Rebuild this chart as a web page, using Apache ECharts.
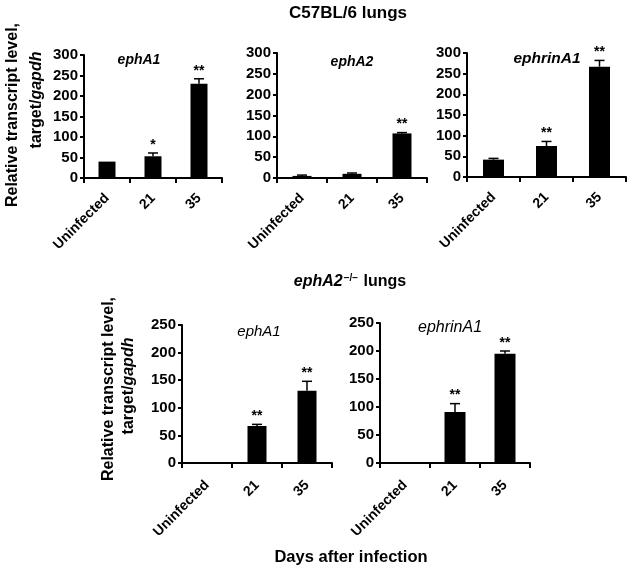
<!DOCTYPE html>
<html>
<head>
<meta charset="utf-8">
<script src="https://cdn.jsdelivr.net/npm/echarts@6/dist/echarts.min.js"></script>
<style>
  html, body { margin: 0; padding: 0; background: #fff; }
  #chart { width: 632px; height: 571px; }
</style>
</head>
<body>
<div id="chart"></div>
<script>
// categories (days after infection)
const categories = ['Uninfected', '21', '35'];

// C57BL/6 lungs
const wtEphA1 = [40, 53, 230];
const wtEphA1Err = [0, 8, 12];
const wtEphA1Stars = ['', '*', '**'];

const wtEphA2 = [5, 10, 107];
const wtEphA2Err = [2, 2, 2];
const wtEphA2Stars = ['', '', '**'];

const wtEphrinA1 = [42, 75, 267];
const wtEphrinA1Err = [3, 11, 15];
const wtEphrinA1Stars = ['', '**', '**'];

// ephA2-/- lungs
const koEphA1 = [0, 67, 131];
const koEphA1Err = [0, 3, 17];
const koEphA1Stars = ['', '**', '**'];

const koEphrinA1 = [0, 91, 195];
const koEphrinA1Err = [0, 15, 5];
const koEphrinA1Stars = ['', '**', '**'];

const topTicks = { min: 0, max: 300, interval: 50 };
const bottomTicks = { min: 0, max: 250, interval: 50 };

const FONT = '"Liberation Sans", Arial, sans-serif';

const panels = [
    { vals: wtEphA1, err: wtEphA1Err, stars: wtEphA1Stars, ticks: topTicks, barWidth: 17, labelGap: 18,
      grid: { left: 84, top: 55, width: 138, height: 123 } },
    { vals: wtEphA2, err: wtEphA2Err, stars: wtEphA2Stars, ticks: topTicks, barWidth: 19, labelGap: 18,
      grid: { left: 277, top: 53, width: 150, height: 125 } },
    { vals: wtEphrinA1, err: wtEphrinA1Err, stars: wtEphrinA1Stars, ticks: topTicks, barWidth: 21, labelGap: 18,
      grid: { left: 467, top: 53, width: 159, height: 124 } },
    { vals: koEphA1, err: koEphA1Err, stars: koEphA1Stars, ticks: bottomTicks, barWidth: 19, labelGap: 20,
      grid: { left: 182, top: 325, width: 150, height: 138 } },
    { vals: koEphrinA1, err: koEphrinA1Err, stars: koEphrinA1Stars, ticks: bottomTicks, barWidth: 21, labelGap: 20,
      grid: { left: 380, top: 323, width: 150, height: 140 } }
];

const grid = [], xAxis = [], yAxis = [], series = [];

panels.forEach((p, i) => {
    grid.push(Object.assign({ containLabel: false }, p.grid));
    xAxis.push({
        type: 'category',
        gridIndex: i,
        data: categories,
        axisLine: { lineStyle: { color: '#000', width: 2 } },
        axisTick: { show: true, length: 5, lineStyle: { color: '#000', width: 2 } },
        axisLabel: {
            interval: 0,
            rotate: 45,
            margin: p.labelGap,
            color: '#000',
            fontWeight: 'bold',
            fontSize: 14,
            fontFamily: FONT
        }
    });
    yAxis.push({
        type: 'value',
        gridIndex: i,
        min: p.ticks.min,
        max: p.ticks.max,
        interval: p.ticks.interval,
        splitLine: { show: false },
        axisLine: { show: true, lineStyle: { color: '#000', width: 2 } },
        axisTick: { show: true, length: 4, lineStyle: { color: '#000', width: 2 } },
        axisLabel: {
            margin: 6,
            color: '#000',
            fontWeight: 'bold',
            fontSize: 15,
            fontFamily: FONT
        }
    });
    series.push({
        type: 'bar',
        xAxisIndex: i,
        yAxisIndex: i,
        barWidth: p.barWidth,
        itemStyle: { color: '#000' },
        data: p.vals
    });
    // error bars + significance stars
    series.push({
        type: 'custom',
        xAxisIndex: i,
        yAxisIndex: i,
        z: 5,
        data: p.vals.map((v, k) => [k, v, p.err[k]]),
        renderItem: (params, api) => {
            const base = api.coord([api.value(0), api.value(1)]);
            const tip = api.coord([api.value(0), api.value(1) + api.value(2)]);
            const cap = 5;
            const children = [];
            if (api.value(2) > 0) {
                children.push({
                    type: 'line',
                    shape: { x1: base[0], y1: base[1], x2: tip[0], y2: tip[1] },
                    style: { stroke: '#000', lineWidth: 1.5 }
                });
                children.push({
                    type: 'line',
                    shape: { x1: tip[0] - cap, y1: tip[1], x2: tip[0] + cap, y2: tip[1] },
                    style: { stroke: '#000', lineWidth: 1.5 }
                });
            }
            const star = p.stars[params.dataIndex];
            if (star) {
                children.push({
                    type: 'text',
                    x: tip[0],
                    y: tip[1] - 1,
                    style: {
                        text: star,
                        align: 'center',
                        verticalAlign: 'bottom',
                        fill: '#000',
                        font: 'bold 14px ' + FONT
                    }
                });
            }
            return { type: 'group', children: children };
        }
    });
});

function label(text, x, y, font, extra) {
    return Object.assign({
        type: 'text',
        x: x,
        y: y,
        style: {
            text: text,
            align: 'center',
            verticalAlign: 'middle',
            fill: '#000',
            font: font
        }
    }, extra || {});
}

function yTitle(text, x, y) {
    return {
        type: 'text',
        x: x,
        y: y,
        rotation: Math.PI / 2,
        style: {
            text: text,
            align: 'center',
            verticalAlign: 'middle',
            fill: '#000',
            font: 'bold 16px ' + FONT,
            rich: {
                i: { fontStyle: 'italic', fontWeight: 'bold', fontSize: 16, fontFamily: FONT }
            }
        }
    };
}

const graphic = [
    label('C57BL/6 lungs', 348, 13, 'bold 17px ' + FONT),
    {
        type: 'text',
        x: 350,
        y: 282,
        style: {
            text: '{i|ephA2}{s|−/−}{n| lungs}',
            align: 'center',
            verticalAlign: 'middle',
            fill: '#000',
            rich: {
                i: { fontStyle: 'italic', fontWeight: 'bold', fontSize: 16, fontFamily: FONT },
                s: { fontWeight: 'bold', fontSize: 10, fontFamily: FONT, verticalAlign: 'top', padding: [0, 1, 8, 1] },
                n: { fontWeight: 'bold', fontSize: 16, fontFamily: FONT }
            }
        }
    },
    label('Days after infection', 351, 557, 'bold 16.5px ' + FONT),
    // panel titles
    label('ephA1', 139, 60, 'italic bold 14px ' + FONT),
    label('ephA2', 352, 62, 'italic bold 14px ' + FONT),
    label('ephrinA1', 547, 59, 'italic bold 15.5px ' + FONT),
    label('ephA1', 259, 332, 'italic 15px ' + FONT),
    label('ephrinA1', 450, 328, 'italic 16px ' + FONT),
    // y-axis titles
    yTitle('Relative transcript level,', 13, 115),
    yTitle('target/{i|gapdh}', 37, 100),
    yTitle('Relative transcript level,', 109, 389),
    yTitle('target/{i|gapdh}', 129, 386)
];

const chart = echarts.init(document.getElementById('chart'));
chart.setOption({
    backgroundColor: '#fff',
    animation: false,
    grid: grid,
    xAxis: xAxis,
    yAxis: yAxis,
    series: series,
    graphic: graphic
});
</script>
</body>
</html>
